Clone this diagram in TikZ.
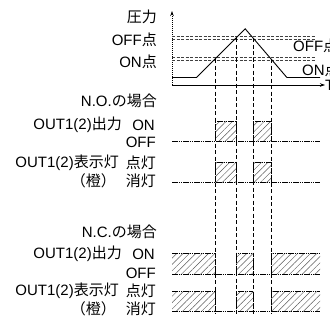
\documentclass[tikz,border=0pt]{standalone}
\usepackage{fontspec}
\setmainfont{Liberation Sans}
\newfontfamily\jp{Noto Sans CJK JP}
\usetikzlibrary{patterns.meta,arrows.meta}
\begin{document}
\begin{tikzpicture}[x=1pt,y=-1pt,
  txt/.style={font=\fontsize{15}{17}\selectfont, inner sep=0pt},
  sig/.style={line width=0.9pt, dash pattern=on 1.6pt off 0.6pt},
  vdash/.style={line width=0.8pt, dash pattern=on 4pt off 2.5pt},
  lvl/.style={line width=0.6pt, black!75, dash pattern=on 3pt off 1.5pt},
  hatch/.style={pattern={Lines[angle=45,distance=4.5pt,line width=0.45pt]}, pattern color=black!65},
  curve/.style={line width=0.9pt}]
\useasboundingbox (0,0) rectangle (330,322);
\fill[white] (0,0) rectangle (330,322);

% left labels
\node[txt, anchor=east] (p) at (157,17) {\jp 圧力};
\node[txt, anchor=east] (offl) at (157,40) {OFF\jp 点};
\node[txt, anchor=east] (onl) at (157,62) {ON\jp 点};
\node[txt, anchor=east] (no) at (157,101) {N.O.{\jp の場合}};
\node[txt, anchor=east] (o1) at (122,125) {OUT1(2){\jp 出力}};
\node[txt, anchor=east] (o1on) at (155,125) {ON};
\node[txt, anchor=east] (o1off) at (156,142) {OFF};
\node[txt, anchor=east] (l1) at (119,163) {OUT1(2){\jp 表示灯}};
\node[txt, anchor=east] (l1on) at (156,163) {\jp 点灯};
\node[txt, anchor=east] (c1) at (116,181) {\jp （橙）};
\node[txt, anchor=east] (l1off) at (156,181) {\jp 消灯};
\node[txt, anchor=east] (nc) at (157,232) {N.C.{\jp の場合}};
\node[txt, anchor=east] (o2) at (122,254) {OUT1(2){\jp 出力}};
\node[txt, anchor=east] (o2on) at (155,254) {ON};
\node[txt, anchor=east] (o2off) at (156,273) {OFF};
\node[txt, anchor=east] (l2) at (119,291) {OUT1(2){\jp 表示灯}};
\node[txt, anchor=east] (l2on) at (156,291) {\jp 点灯};
\node[txt, anchor=east] (c2) at (116,309) {\jp （橙）};
\node[txt, anchor=east] (l2off) at (156,309) {\jp 消灯};

% right labels (cut by the right edge, as in the reference)
\node[txt, anchor=west] (offr) at (293,46) {OFF\jp 点};
\node[txt, anchor=west] (onr) at (302,70) {ON\jp 点};

% axes
\coordinate (org) at (172,85);
\coordinate (ytop) at (172,11);
\coordinate (xend) at (325,85);
\draw[line width=0.8pt, dash pattern=on 1.5pt off 0.5pt, -{Stealth[length=5pt,width=3.5pt]}] (org) -- (ytop);
\draw[line width=0.8pt, dash pattern=on 1.5pt off 0.5pt, -{Stealth[length=5pt,width=3.5pt]}] (org) -- (xend);
\node[txt, anchor=west] (T) at (325,85) {T};

% threshold double lines
\draw[lvl] (172,36.7) -- (316,36.7);
\draw[lvl] (172,39.3) -- (316,39.3);
\draw[lvl] (172,57.6) -- (316,57.6);
\draw[lvl] (172,60.2) -- (316,60.2);

% pressure curve
\coordinate (c0) at (172,77.5);
\coordinate (c1) at (196.5,77.5);
\coordinate (pk) at (245.2,28.8);
\coordinate (c3) at (286.9,77.5);
\coordinate (c4) at (320,77.5);
\draw[curve] (c0) -- (c1) -- (pk) -- (c3) -- (c4);

% switching instants
\coordinate (a) at (215,59);
\coordinate (b) at (236,38);
\coordinate (c) at (253,38);
\coordinate (d) at (271,59);
\coordinate (ab) at (215,314);
\coordinate (bb) at (236,314);
\coordinate (cb) at (253,314);
\coordinate (db) at (271,314);

% N.O. output
\fill[hatch] (215,121) rectangle (236,141);
\fill[hatch] (253,121) rectangle (271,141);
\draw[sig] (215,141) -- (215,121) -- (236,121) -- (236,141);
\draw[sig] (253,141) -- (253,121) -- (271,121) -- (271,141);
\draw[sig] (172,141) -- (320,141);
% N.O. lamp
\fill[hatch] (215,162) rectangle (236,182);
\fill[hatch] (253,162) rectangle (271,182);
\draw[sig] (215,182) -- (215,162) -- (236,162) -- (236,182);
\draw[sig] (253,182) -- (253,162) -- (271,162) -- (271,182);
\draw[sig] (172,182) -- (320,182);

% N.C. output
\fill[hatch] (172,253.5) rectangle (215,274);
\fill[hatch] (236,253.5) rectangle (253,274);
\fill[hatch] (271,253.5) rectangle (320,274);
\draw[sig] (172,253.5) -- (215,253.5) -- (215,274);
\draw[sig] (236,274) -- (236,253.5) -- (253,253.5) -- (253,274);
\draw[sig] (271,274) -- (271,253.5) -- (320,253.5);
\draw[sig] (172,274) -- (320,274);
% N.C. lamp
\fill[hatch] (172,291.5) rectangle (215,311.5);
\fill[hatch] (236,291.5) rectangle (253,311.5);
\fill[hatch] (271,291.5) rectangle (320,311.5);
\draw[sig] (172,291.5) -- (215,291.5) -- (215,311.5);
\draw[sig] (236,311.5) -- (236,291.5) -- (253,291.5) -- (253,311.5);
\draw[sig] (271,311.5) -- (271,291.5) -- (320,291.5);
\draw[sig] (172,311.5) -- (320,311.5);

% vertical dashed lines
\draw[vdash] (a) -- (ab);
\draw[vdash] (b) -- (bb);
\draw[vdash] (c) -- (cb);
\draw[vdash] (d) -- (db);
\end{tikzpicture}
\end{document}
